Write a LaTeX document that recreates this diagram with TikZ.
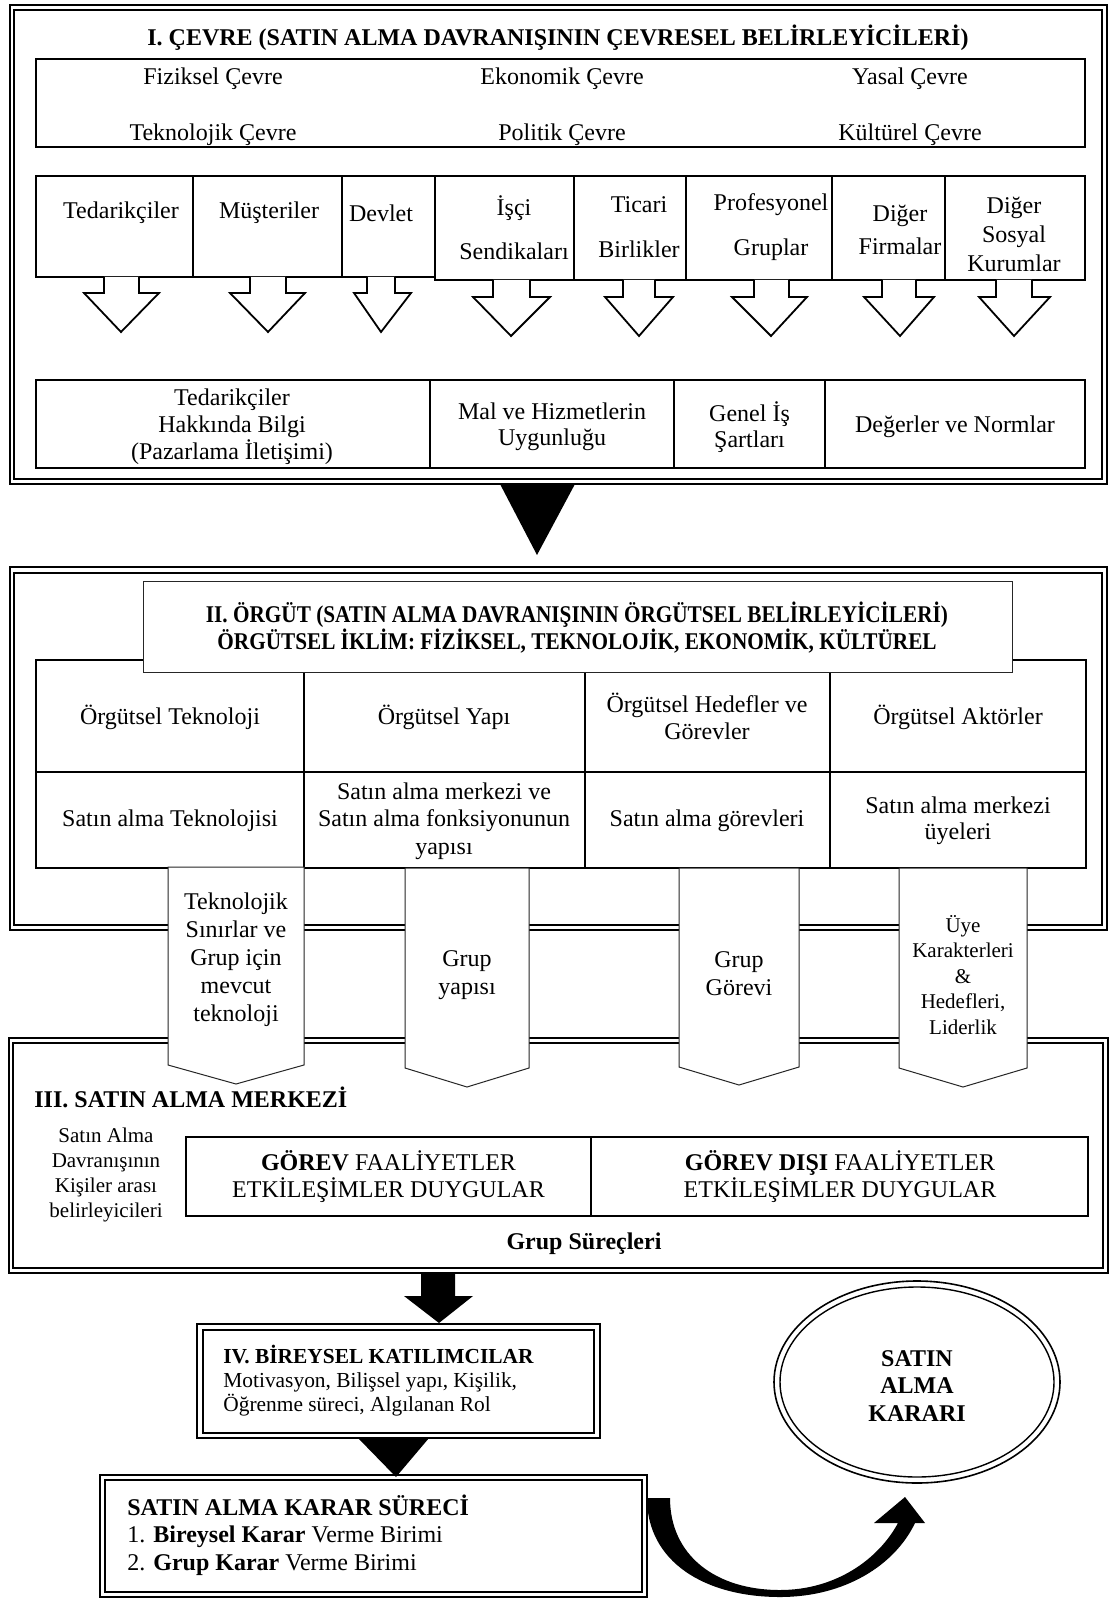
\documentclass[tikz,border=0pt]{standalone}
\usepackage{fontspec}
\setmainfont{Liberation Serif}
\usepackage{graphicx}
\newcommand\narrowed[1]{\scalebox{0.885}[1]{#1}}
\begin{document}
\begin{tikzpicture}[x=0.5pt,y=-0.5pt,
  frameout/.style={line width=1pt},
  framein/.style={line width=0.75pt},
  box/.style={line width=0.9pt},
  thinbox/.style={line width=0.5pt, draw=black!85, fill=white},
  arrowout/.style={line width=0.9pt, fill=white, line join=miter},
  txt/.style={font=\fontsize{12}{14}\selectfont, align=center, inner sep=0pt},
  btxt/.style={font=\bfseries\fontsize{12}{14}\selectfont, align=center, inner sep=0pt},
  stxt/.style={font=\fontsize{10.5}{12.5}\selectfont, align=center, inner sep=0pt}
]
\useasboundingbox (0,0) rectangle (1112,1598);
\fill[white] (0,0) rectangle (1112,1598);

% ---------- I. Environment ----------
\draw[frameout] (9.5,5) rectangle (1107,484);
\draw[framein] (14,10) rectangle (1102,479);
\node[btxt] (t1) at (558,38) {I. ÇEVRE (SATIN ALMA DAVRANIŞININ ÇEVRESEL BELİRLEYİCİLERİ)};

\draw[box] (36,59) rectangle (1085,147);
\node[txt] (fiz) at (213,79) {Fiziksel Çevre};
\node[txt] (eko) at (562,79) {Ekonomik Çevre};
\node[txt] (yas) at (910,79) {Yasal Çevre};
\node[txt] (tek) at (213,135) {Teknolojik Çevre};
\node[txt] (pol) at (562,135) {Politik Çevre};
\node[txt] (kul) at (910,135) {Kültürel Çevre};

% actor boxes with hollow arrows
\draw[box] (36,176) rectangle (193,277);
\draw[box] (193,176) rectangle (342,277);
\draw[box] (342,176) rectangle (435,277);
\draw[box] (435,176) rectangle (574,280);
\draw[box] (574,176) rectangle (686,280);
\draw[box] (686,176) rectangle (832,280);
\draw[box] (832,176) rectangle (945,280);
\draw[box] (945,176) rectangle (1085,280);
\foreach \sl/\sr/\hl/\hr/\tx/\yb/\yh/\yt in {
  104/139/84/159/121/277/293/332,
  250/286/230/305/268/277/293/332,
  367/395/354/411/381/277/293/332,
  493/530/473/550/511/280/297/336,
  623/655/605/673/639/280/297/336,
  754/789/732/807/771/280/297/336,
  882/916/864/934/900/280/297/336,
  996/1032/979/1050/1014/280/297/336}
  \draw[arrowout] (\sl,\yb) -- (\sl,\yh) -- (\hl,\yh) -- (\tx,\yt) -- (\hr,\yh) -- (\sr,\yh) -- (\sr,\yb);
\node[txt] (ted) at (121,213) {Tedarikçiler};
\node[txt] (mus) at (269,213) {Müşteriler};
\node[txt] (dev) at (381,213) {Devlet};
\node[txt, font=\fontsize{12}{22}\selectfont] (isc) at (514,228) {İşçi\\Sendikaları};
\node[txt, font=\fontsize{12}{22.5}\selectfont] (tic) at (639,227.5) {Ticari\\Birlikler};
\node[txt, font=\fontsize{12}{22.5}\selectfont] (pro) at (771,227.5) {Profesyonel\\Gruplar};
\node[txt, font=\fontsize{12}{16.5}\selectfont] (dfi) at (900,229.5) {Diğer\\Firmalar};
\node[txt, font=\fontsize{12}{14.5}\selectfont] (dso) at (1014,234) {Diğer\\Sosyal\\Kurumlar};

% outcome row
\draw[box] (36,380) rectangle (430,468);
\draw[box] (430,380) rectangle (674,468);
\draw[box] (674,380) rectangle (825,468);
\draw[box] (825,380) rectangle (1085,468);
\node[txt, font=\fontsize{12}{13.5}\selectfont] (bil) at (232,427) {Tedarikçiler\\Hakkında Bilgi\\(Pazarlama İletişimi)};
\node[txt, font=\fontsize{12}{13}\selectfont] (mal) at (552,427) {Mal ve Hizmetlerin\\Uygunluğu};
\node[txt, font=\fontsize{12}{13}\selectfont] (gen) at (749.5,427) {Genel İş\\Şartları};
\node[txt] (deg) at (955,427) {Değerler ve Normlar};

% link I -> II
\fill (500,484) -- (575,484) -- (537,555) -- cycle;

% ---------- II. Organisation ----------
\draw[frameout] (9.5,567) rectangle (1107,930);
\draw[framein] (14,573) rectangle (1102,925);
\draw[box] (36,660) rectangle (1086,868);
\draw[box] (36,772) -- (1086,772);
\draw[box] (304,660) -- (304,868);
\draw[box] (585,660) -- (585,868);
\draw[box] (830,660) -- (830,868);
\draw[thinbox] (143,581) rectangle (1012,672);
\node[btxt, font=\bfseries\fontsize{12}{13.5}\selectfont] (t2) at (577,628)
  {\narrowed{II. ÖRGÜT (SATIN ALMA DAVRANIŞININ ÖRGÜTSEL BELİRLEYİCİLERİ)}\\
   \narrowed{ÖRGÜTSEL İKLİM: FİZİKSEL, TEKNOLOJİK, EKONOMİK, KÜLTÜREL}};
\node[txt] (otek) at (170,717) {Örgütsel Teknoloji};
\node[txt] (oyap) at (444,717) {Örgütsel Yapı};
\node[txt, font=\fontsize{12}{13.5}\selectfont] (ohed) at (707,716.5) {Örgütsel Hedefler ve\\Görevler};
\node[txt] (oakt) at (958,717) {Örgütsel Aktörler};
\node[txt] (stek) at (170,821) {Satın alma Teknolojisi};
\node[txt, font=\fontsize{12}{13.75}\selectfont] (smer) at (444,821) {Satın alma merkezi ve\\Satın alma fonksiyonunun\\yapısı};
\node[txt] (sgor) at (707,821) {Satın alma görevleri};
\node[txt, font=\fontsize{12}{13}\selectfont] (suye) at (958,821) {Satın alma merkezi\\üyeleri};

% ---------- III. Buying centre ----------
\draw[frameout] (8.5,1038) rectangle (1108,1273);
\draw[framein] (13,1043) rectangle (1103,1268);

% pentagon banners from II into III
\draw[thinbox] (168,867) -- (304,867) -- (304,1065) -- (236,1084) -- (168,1065) -- cycle;
\draw[thinbox] (405,868) -- (529,868) -- (529,1068) -- (467,1087) -- (405,1068) -- cycle;
\draw[thinbox] (679,868) -- (799,868) -- (799,1067) -- (739,1085) -- (679,1067) -- cycle;
\draw[thinbox] (899,868) -- (1027,868) -- (1027,1068) -- (963,1087) -- (899,1068) -- cycle;
\node[txt] (btek) at (236,960) {Teknolojik\\Sınırlar ve\\Grup için\\mevcut\\teknoloji};
\node[txt] (byap) at (467,975) {Grup\\yapısı};
\node[txt] (bgor) at (739,974) {Grup\\Görevi};
\node[stxt, font=\fontsize{10.5}{12.75}\selectfont] (buye) at (963,975) {Üye\\Karakterleri\\\&\\Hedefleri,\\Liderlik};

\node[btxt, anchor=west] (t3) at (34,1097) {III. SATIN ALMA MERKEZİ};
\node[stxt] (kisi) at (106,1175) {Satın Alma\\Davranışının\\Kişiler arası\\belirleyicileri};
\draw[box] (186,1137) rectangle (1088,1216);
\draw[box] (591,1137) -- (591,1216);
\node[txt, font=\fontsize{12}{13.5}\selectfont] (gor) at (388.5,1177) {{\bfseries GÖREV} FAALİYETLER\\ETKİLEŞİMLER DUYGULAR};
\node[txt, font=\fontsize{12}{13.5}\selectfont] (gdis) at (840,1177) {{\bfseries GÖREV DIŞI} FAALİYETLER\\ETKİLEŞİMLER DUYGULAR};
\node[btxt] (gs) at (584,1244) {Grup Süreçleri};

% link III -> IV
\fill (421,1272) -- (421,1296) -- (404,1296) -- (439,1323) -- (473,1296) -- (455,1296) -- (455,1272) -- cycle;

% ---------- IV. Individual participants ----------
\draw[frameout] (197,1324) rectangle (600,1438);
\draw[framein] (203,1330) rectangle (594,1433);
\node[font=\fontsize{10.7}{12}\selectfont, align=left, inner sep=0pt, anchor=west] (iv) at (223,1381)
  {\textbf{IV. BİREYSEL KATILIMCILAR}\\Motivasyon, Bilişsel yapı, Kişilik,\\Öğrenme süreci, Algılanan Rol};

% link IV -> decision process
\fill (358,1438) -- (429,1438) -- (396,1477) -- cycle;

% ---------- decision process ----------
\draw[frameout] (100,1475) rectangle (647,1597);
\draw[framein] (105,1480) rectangle (642,1592);
\node[font=\fontsize{12}{13.75}\selectfont, align=left, inner sep=0pt, anchor=west] (surec) at (127,1535)
  {\textbf{SATIN ALMA KARAR SÜRECİ}\\1. \textbf{Bireysel Karar} Verme Birimi\\2. \textbf{Grup Karar} Verme Birimi};

% ---------- decision ----------
\draw[line width=0.8pt] (917,1382) ellipse [x radius=71.5pt, y radius=50.5pt];
\draw[line width=0.7pt] (917,1382) ellipse [x radius=68.5pt, y radius=47.5pt];
\node[btxt, font=\bfseries\fontsize{12}{13.75}\selectfont] (karar) at (917,1386) {SATIN\\ALMA\\KARARI};

% curved arrow from the process to the decision
\fill (647,1498) .. controls (647,1562) and (705,1597) .. (780,1597)
  .. controls (845,1597) and (895,1565) .. (915,1523)
  -- (925,1523) -- (905,1497) -- (874,1523) -- (898,1523)
  .. controls (878,1560) and (835,1590) .. (780,1590)
  .. controls (715,1590) and (670,1555) .. (670,1498) -- cycle;
\end{tikzpicture}
\end{document}
